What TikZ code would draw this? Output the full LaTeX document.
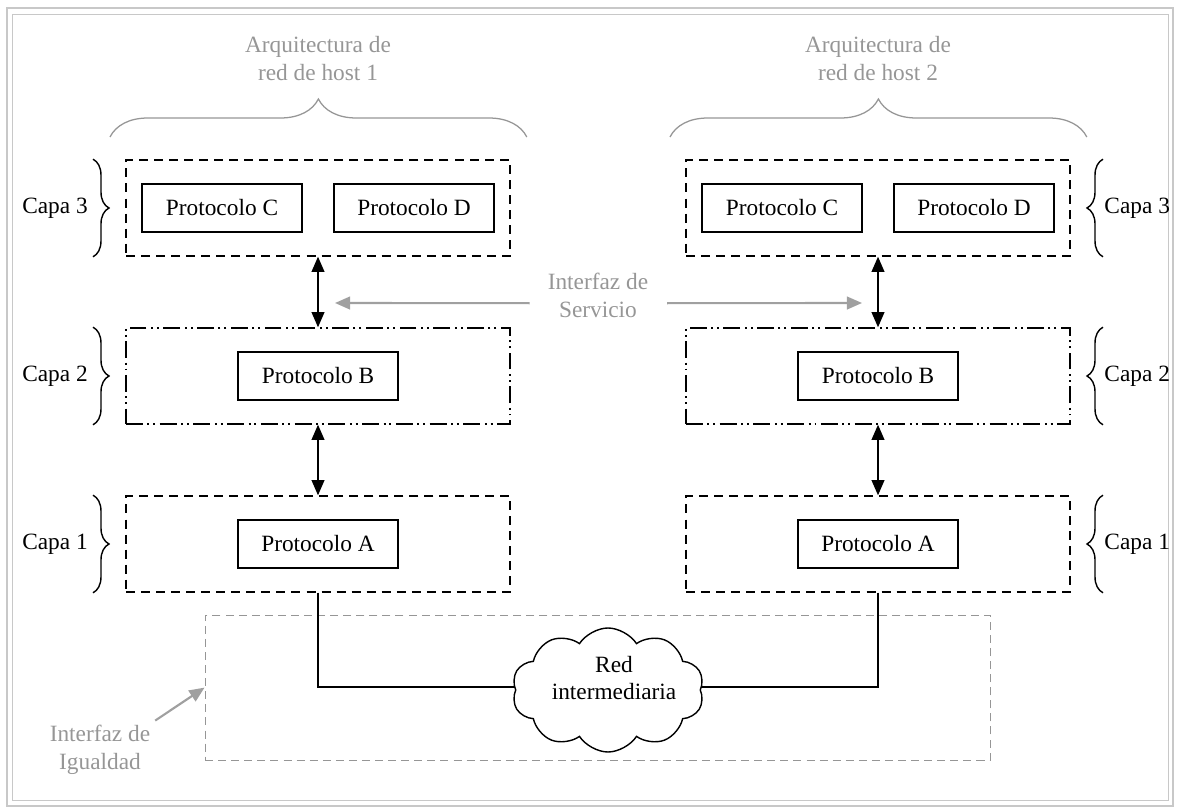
\documentclass[tikz,border=0pt]{standalone}
\usepackage{fontspec}
\setmainfont{Liberation Serif}
\usepackage{xcolor}
\usetikzlibrary{shapes.symbols}
\usetikzlibrary{decorations.pathreplacing}
\usetikzlibrary{arrows.meta}

\definecolor{gristexto}{RGB}{150,150,150}
\definecolor{grisflecha}{RGB}{160,160,160}
\definecolor{grismarco}{RGB}{200,200,200}

\tikzset{
    proto/.style={draw, line width=1pt, minimum width=4cm, minimum height=1.2cm},
    capadash/.style={draw, line width=1pt, dash pattern=on 6.4pt off 4.3pt,
        minimum width=9.6cm, minimum height=2.4cm},
    capadots/.style={draw, line width=1pt,
        dash pattern=on 12pt off 3.2pt on 1.4pt off 2.8pt on 1.4pt off 3.2pt,
        minimum width=9.6cm, minimum height=2.4cm},
    llave/.style={decorate, decoration={brace, amplitude=0.4cm}, line width=1pt},
    llavegris/.style={decorate, decoration={brace, amplitude=0.95cm}, draw=gristexto, line width=0.9pt},
    flecha/.style={{Triangle[length=0.38cm,width=0.32cm]}-{Triangle[length=0.38cm,width=0.32cm]}, line width=1.1pt},
    flechagris/.style={-{Triangle[length=0.38cm,width=0.32cm]}, draw=grisflecha, line width=1.5pt},
    rotulo/.style={text=gristexto, align=center}
}

\begin{document}
\begin{tikzpicture}[every node/.style={font=\fontsize{16.6}{19.5}\selectfont}]
        \useasboundingbox (0,0) rectangle (29.5,20.2);
        \draw[grismarco, line width=1.6pt] (0.175,0.05) rectangle (29.33,20.0);
        \draw[grismarco, line width=0.7pt] (0.3,0.2) rectangle (29.2,19.85);

        % las dos pilas de protocolos
        \foreach \h/\x in {1/7.95, 2/21.95} {
            \node[capadash] (L3-\h) at (\x, 15.0) {};
            \node[proto] (C-\h) at (\x-2.4, 15.0) {Protocolo C};
            \node[proto] (D-\h) at (\x+2.4, 15.0) {Protocolo D};
            \node[capadots] (L2-\h) at (\x, 10.8) {};
            \node[proto] (B-\h) at (\x, 10.8) {Protocolo B};
            \node[capadash] (L1-\h) at (\x, 6.6) {};
            \node[proto] (A-\h) at (\x, 6.6) {Protocolo A};
            \draw[flecha] (L3-\h.south) -- (L2-\h.north);
            \draw[flecha] (L2-\h.south) -- (L1-\h.north);
            \draw[llavegris] (\x-5.2, 16.775) -- (\x+5.22, 16.775);
            \node[rotulo] (arq-\h) at (\x, 18.74) {Arquitectura de\\red de host \h};
        }

        % capas
        \foreach \n/\y in {3/15.0, 2/10.8, 1/6.6} {
            \draw[llave] (2.325, \y+1.22) -- (2.325, \y-1.22);
            \node (capaL-\n) at (1.375, \y) {Capa \n};
            \draw[llave] (27.575, \y-1.22) -- (27.575, \y+1.22);
            \node (capaR-\n) at (28.43, \y) {Capa \n};
        }

        % interfaz de servicio
        \node[rotulo] (serv) at (14.95, 12.81) {Interfaz de\\Servicio};
        \coordinate (sL) at (8.375, 12.625);
        \coordinate (sR) at (21.55, 12.625);
        \draw[flechagris] ([shift={(-0.33,-0.19)}]serv.west) -- (sL);
        \draw[flechagris] ([shift={(0.35,-0.19)}]serv.east) -- (sR);

        % red e interfaz de igualdad
        \node[draw=gristexto, dash pattern=on 5.7pt off 3.6pt, line width=0.8pt, inner sep=0pt,
            minimum width=19.625cm, minimum height=3.625cm] (igual) at (14.94, 3.01) {};
        \node[cloud, draw, fill=white, line width=1pt, cloud puffs=10, cloud puff arc=115, aspect=1.6,
            inner sep=0pt, minimum width=4.8cm, minimum height=3.1cm] (red) at (15.2, 2.95) {};
        \node[align=center] (redtxt) at (15.35, 3.25) {Red\\intermediaria};
        \draw[line width=1.1pt] (L1-1.south) |- ([yshift=0.75mm]red.west);
        \draw[line width=1.1pt] (L1-2.south) |- ([yshift=0.75mm]red.east);
        \node[rotulo] (igualtxt) at (2.5, 1.45) {Interfaz de\\Igualdad};
        \draw[flechagris] (igualtxt.north east) -- (igual.west);
\end{tikzpicture}
\end{document}
